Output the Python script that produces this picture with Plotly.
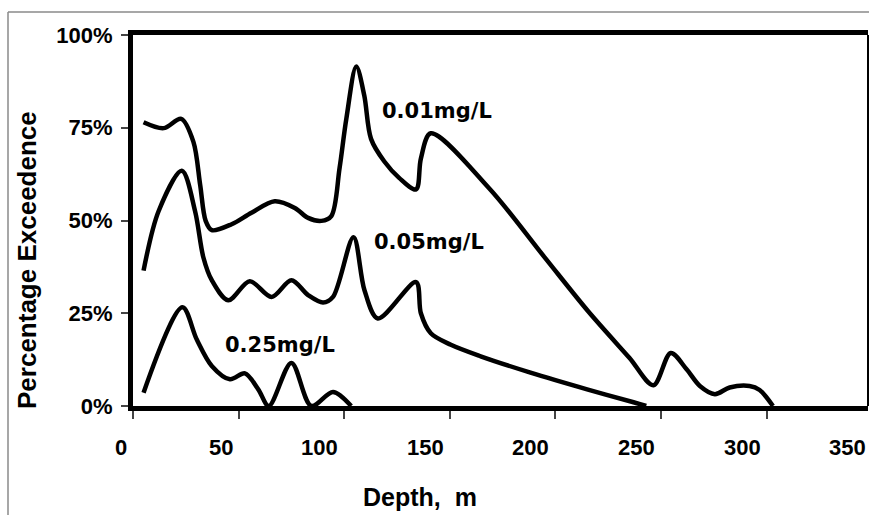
import plotly.graph_objects as go

# ---- data (depth in m, exceedence in %) ----
depth_001 = [5, 14.5, 22.8, 28.6, 31.8, 34.4, 37.3, 46.7, 56.1, 67.1, 76.6, 82.9, 89.2, 93.9,
             97.8, 101, 105.7, 109.5, 112.7, 119, 126, 134, 136.3, 141, 168.6, 195, 215.7, 235,
             246.4, 254.6, 262.1, 268.4, 275.5, 282.5, 291.9, 296.7, 303]
pct_001 = [76.5, 74.9, 77.4, 71.2, 59.6, 49.9, 47.4, 49, 52.1, 55.2, 53.4, 50.7, 49.9, 51.2,
           64.1, 77.4, 91.5, 83.7, 72, 65.9, 61.5, 58.4, 66.7, 73.5, 58.7, 40, 25.4, 13,
           5.6, 14.3, 9.9, 5.4, 3.2, 5, 5.4, 4.3, 0]

depth_005 = [5, 12.1, 23.1, 29.4, 33.3, 37.3, 45.1, 55.3, 65.6, 75, 82.9, 90, 94.7, 104.4,
             109.6, 115.9, 134, 136.3, 141, 150.5, 164.6, 188.2, 215, 237, 243]
pct_005 = [36.5, 52.5, 63.4, 52.5, 40.1, 33.9, 28.5, 33.6, 29.4, 33.9, 29.9, 27.9, 29.4, 45.5,
           31.2, 23.6, 33.4, 25, 19.6, 16.5, 13.4, 9, 4.5, 1, 0]

depth_025 = [5, 23.4, 30.2, 37.3, 45.9, 53, 59.3, 64.3, 75, 84.4, 94.7, 103.3]
pct_025 = [3.6, 26.6, 17.9, 10.8, 7.2, 8.8, 4.5, 0, 11.6, 0, 3.8, 0]

series_labels = ["0.01mg/L", "0.05mg/L", "0.25mg/L"]
label_depth = [143.9, 140.2, 69.6]
label_pct = [79.5, 44.2, 16.4]

x_ticks = [0, 50, 100, 150, 200, 250, 300, 350]
y_ticks = [0, 25, 50, 75, 100]
y_ticktext = ["0%", "25%", "50%", "75%", "100%"]

x_title = "Depth,\u00a0\u00a0m"
y_title = "Percentage Exceedence"

FONT = "Liberation Sans, Arial, sans-serif"
X_MAX = 348

# plot-area geometry (pixels) used for paper-relative placement of decorations
L, R, T, B = 133, 868, 35, 406
PW, PH = R - L, B - T


def px(x):
    return (x - L) / PW


def py(y):
    return (B - y) / PH


fig = go.Figure()
for xs, ys in [(depth_001, pct_001), (depth_005, pct_005), (depth_025, pct_025)]:
    fig.add_trace(go.Scatter(x=xs, y=ys, mode="lines",
                             line=dict(color="black", width=4.5, shape="spline", smoothing=0.9),
                             showlegend=False, hoverinfo="skip"))

annotations = []
for t, xd, yd in zip(series_labels, label_depth, label_pct):
    annotations.append(dict(x=xd, y=yd, xref="x", yref="y", text=t, showarrow=False,
                            font=dict(family="DejaVu Sans", size=21, color="black", weight="bold"),
                            xanchor="center", yanchor="middle"))
# x tick labels (right-aligned to their ticks, as in the original)
for v in x_ticks:
    annotations.append(dict(x=v / X_MAX, y=0, xref="paper", yref="paper", text=str(v),
                            showarrow=False,
                            font=dict(family=FONT, size=22, color="black", weight="bold"),
                            xanchor="right", yanchor="middle", xshift=-4, yshift=-41))
annotations.append(dict(x=px(420), y=py(497), xref="paper", yref="paper",
                        text=x_title, showarrow=False,
                        font=dict(family=FONT, size=25, color="black", weight="bold"),
                        xanchor="center", yanchor="middle"))
annotations.append(dict(x=px(27), y=py(260), xref="paper", yref="paper",
                        text=y_title, showarrow=False, textangle=-90,
                        font=dict(family=FONT, size=26, color="black", weight="bold"),
                        xanchor="center", yanchor="middle"))

shapes = [
    dict(type="line", xref="paper", yref="paper", x0=1, x1=1, y0=0, y1=1,
         line=dict(color="black", width=2)),
    dict(type="line", xref="paper", yref="paper", x0=px(8), x1=px(869),
         y0=py(12), y1=py(12), line=dict(color="#8a8a8a", width=1.5)),
    dict(type="line", xref="paper", yref="paper", x0=px(8), x1=px(8),
         y0=py(12), y1=py(515), line=dict(color="#8a8a8a", width=1.5)),
]

fig.update_layout(
    width=869, height=515,
    margin=dict(l=L, r=869 - R, t=T, b=515 - B),
    paper_bgcolor="white", plot_bgcolor="white",
    showlegend=False,
    annotations=annotations,
    shapes=shapes,
    xaxis=dict(range=[0, X_MAX], tickvals=x_ticks, showticklabels=False,
               showgrid=False, zeroline=False,
               showline=True, linecolor="black", linewidth=5, mirror=True,
               ticks="outside", ticklen=8, tickwidth=2, tickcolor="#444"),
    yaxis=dict(range=[0, 100], tickvals=y_ticks, ticktext=y_ticktext,
               showgrid=False, zeroline=False,
               showline=True, linecolor="black", linewidth=5,
               ticks="outside", ticklen=7, tickwidth=2, tickcolor="#444",
               ticklabelstandoff=4,
               tickfont=dict(family=FONT, size=22, color="black", weight="bold")),
)

fig.write_html("out.html",
               config={"displayModeBar": False, "staticPlot": True},
               post_script="document.body.style.margin='0px';"
                           "document.body.style.overflow='hidden';")
